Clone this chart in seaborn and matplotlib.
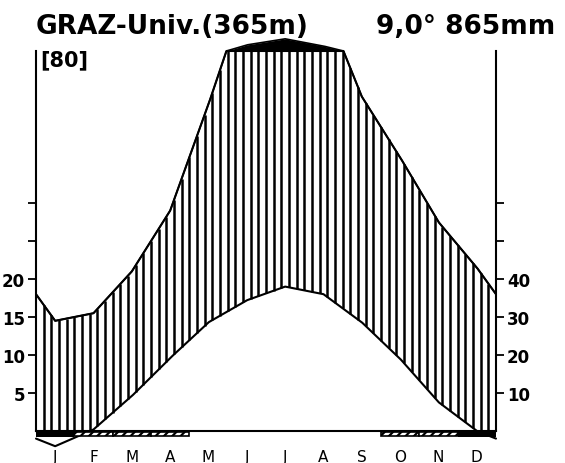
import numpy as np
import matplotlib
matplotlib.use('Agg')
import matplotlib.pyplot as plt
import seaborn as sns

# monthly climate values (Graz-Univ.)
months = ['J', 'F', 'M', 'A', 'M', 'J', 'J', 'A', 'S', 'O', 'N', 'D']
temp_c = [-2.0, 0.2, 4.6, 9.6, 14.3, 17.2, 19.0, 18.0, 14.3, 9.5, 3.8, 0.0]
precip_mm = [29, 31, 42, 58, 86, 116, 132, 113, 88, 72, 55, 43]
frost_black = [1, 0, 0, 0, 0, 0, 0, 0, 0, 0, 0, 1]
frost_hatched = [0, 1, 1, 1, 0, 0, 0, 0, 0, 1, 1, 0]
temp_ticks = [5, 10, 15, 20]
precip_ticks = [10, 20, 30, 40]

sns.set_style('white')
plt.rcParams['font.family'] = ['DejaVu Sans']
plt.rcParams['text.color'] = 'black'
plt.rcParams['xtick.color'] = 'black'
plt.rcParams['ytick.color'] = 'black'
plt.rcParams['hatch.linewidth'] = 1.6


def wl_scale(p):
    # Walter-Lieth: 10 mm = 5 degC, above 100 mm reduced 1:10
    p = np.asarray(p, dtype=float)
    return np.where(p <= 100, p / 2, 50 + (p - 100) / 20)


# month centres plus year edges (Dec/Jan mean at both ends)
centres = np.arange(12) + 0.5
xp = np.r_[0, centres, 12]
tp = np.r_[(temp_c[0] + temp_c[-1]) / 2, temp_c, (temp_c[0] + temp_c[-1]) / 2]
pp = np.r_[(precip_mm[0] + precip_mm[-1]) / 2, precip_mm, (precip_mm[0] + precip_mm[-1]) / 2]

xx = np.linspace(0, 12, 1201)
T = np.interp(xx, xp, tp)
P = np.interp(xx, xp, pp)
PS = wl_scale(P)

fig = plt.figure(figsize=(5.65, 4.64), dpi=100)
ax = fig.add_axes([36 / 565, 32 / 464, 460 / 565, 380 / 464])
ax.set_xlim(0, 12)
ax.set_ylim(0, 50)

# humid period: vertical hatching between temperature and precipitation
xs = np.arange(0.2, 12, 0.2)
lo = np.maximum(np.interp(xs, xp, tp), 0)
hi = np.minimum(np.interp(xs, xp, pp) / 2, 50)
m = hi > lo
ax.vlines(xs[m], lo[m], hi[m], color='black', lw=1.8, zorder=2)

# perhumid part above 100 mm
ax.fill_between(xx, 50, PS, where=P > 100, color='black', lw=0, zorder=3, clip_on=False)

sns.lineplot(x=xx, y=np.minimum(P / 2, 50), color='black', lw=1.5, sort=False, ax=ax,
             zorder=4)
sns.lineplot(x=xx, y=PS, color='black', lw=1.2, sort=False, ax=ax, zorder=4)
sns.lineplot(x=xx, y=T, color='black', lw=1.5, sort=False, ax=ax, zorder=4)
for ln in ax.lines:
    ln.set_clip_on(False)

# frost bars below the baseline
fb = np.array(frost_black, bool)
fh = np.array(frost_hatched, bool)
ax.bar(centres[fb], -0.85, width=1, bottom=0, color='black', lw=0, zorder=5, clip_on=False)
ax.bar(centres[fh], -0.55, width=1, bottom=-0.15, facecolor='white', edgecolor='black',
       hatch='////', lw=1.2, zorder=5, clip_on=False)

for s in ['left', 'right', 'bottom']:
    ax.spines[s].set_visible(True)
    ax.spines[s].set_linewidth(1.5)
    ax.spines[s].set_color('black')
ax.spines['top'].set_visible(False)

ax.set_yticks(temp_ticks + [25, 30])
ax.set_yticklabels([str(t) for t in temp_ticks] + ['', ''], fontsize=12, fontweight='bold')
ax.tick_params(axis='y', direction='out', length=6, width=1.3, left=True, pad=2)
ax.set_xticks(centres)
ax.set_xticklabels(months, fontsize=11)
ax.tick_params(axis='x', length=0, pad=13)

ax2 = ax.twinx()
ax2.set_ylim(0, 50)
ax2.set_yticks(list(wl_scale(precip_ticks)) + [25, 30])
ax2.set_yticklabels([str(p) for p in precip_ticks] + ['', ''], fontsize=12, fontweight='bold')
ax2.tick_params(axis='y', direction='out', length=6, width=1.3, right=True, pad=2)
for s in ax2.spines.values():
    s.set_visible(False)

fig.text(36 / 565, 0.927, 'GRAZ-Univ.(365m)', fontsize=19, fontweight='bold', ha='left',
         va='baseline')
fig.text(555 / 565, 0.927, '9,0° 865mm', fontsize=19, fontweight='bold', ha='right',
         va='baseline')
fig.text(40 / 565, 0.858, '[80]', fontsize=15, fontweight='bold', ha='left', va='baseline')

fig.savefig('out.png', dpi=100)
